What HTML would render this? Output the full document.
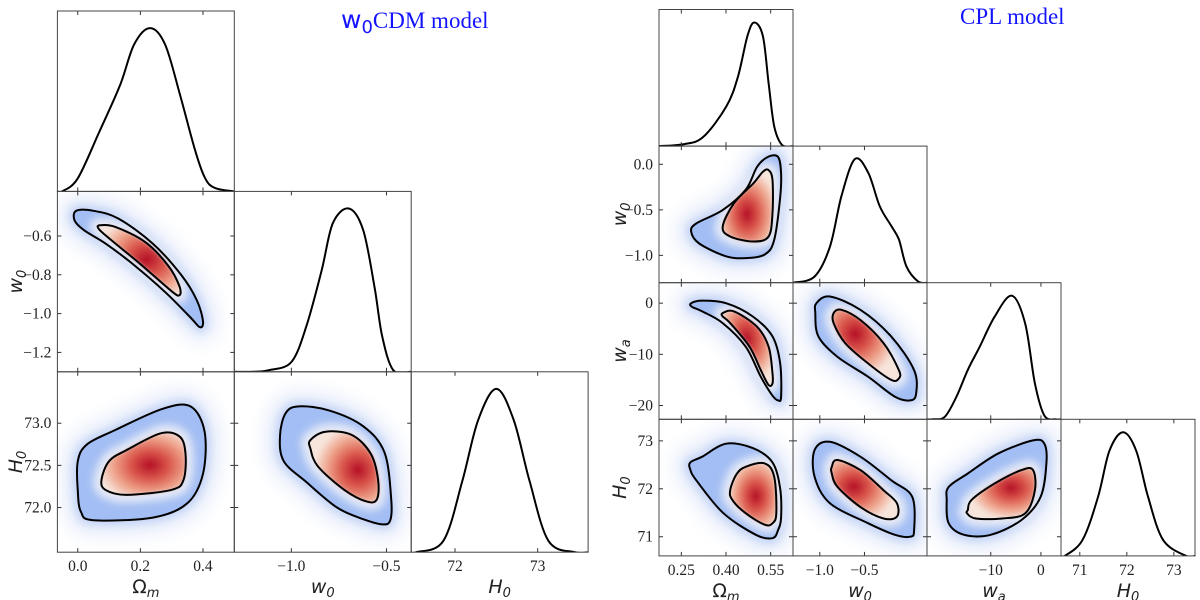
<!DOCTYPE html>
<html><head><meta charset="utf-8"><style>
html,body{margin:0;padding:0;background:#fff;}
svg{display:block;}
text{font-family:"Liberation Serif",serif;fill:#222;}
.tick{font-size:15.5px;}
.lab{font-size:19px;font-style:italic;font-family:"DejaVu Sans",sans-serif;}
.title{font-size:23px;fill:#1414ff;}
</style></head><body>
<svg id="fig" width="1200" height="600" viewBox="0 0 1200 600" xmlns="http://www.w3.org/2000/svg">
<defs>
<filter id="blurBig" x="-50%" y="-50%" width="200%" height="200%"><feGaussianBlur stdDeviation="9"/></filter>
<filter id="blurMid" x="-50%" y="-50%" width="200%" height="200%"><feGaussianBlur stdDeviation="4"/></filter>
<filter id="blurSm" x="-50%" y="-50%" width="200%" height="200%"><feGaussianBlur stdDeviation="1.5"/></filter>
</defs>
<text class="title" x="341" y="28"><tspan font-family="DejaVu Sans, sans-serif" font-size="25">w</tspan><tspan font-family="DejaVu Sans, sans-serif" font-size="18" dy="5">0</tspan><tspan dy="-5">CDM model</tspan></text>
<text class="title" x="960" y="24">CPL model</text>
</svg>
<script>
// ---------- data: w0CDM (left) ----------
const lOmX=[-0.065,-0.05,0.0,0.07,0.135,0.18,0.231,0.279,0.327,0.375,0.407,0.439,0.5];
const lOmD=[0,0,0.08,0.37,0.65,0.90,1,0.90,0.59,0.25,0.08,0.02,0];
const lW0X=[-1.3,-1.2,-1.119,-1.0,-0.921,-0.841,-0.782,-0.698,-0.623,-0.563,-0.523,-0.464,-0.37];
const lW0D=[0,0,0.01,0.06,0.28,0.62,0.91,1,0.87,0.52,0.22,0.01,0];
const lH0X=[71.47,71.53,71.86,72.09,72.28,72.5,72.71,72.90,73.13,73.45,73.61];
const lH0D=[0,0,0.07,0.44,0.81,1,0.81,0.44,0.07,0,0];
const lOmW0Outer=[[-0.005,-0.47],[0.05,-0.47],[0.13,-0.51],[0.24,-0.64],[0.33,-0.8],[0.38,-0.93],[0.40,-1.04],[0.39,-1.07],[0.36,-1.02],[0.28,-0.89],[0.18,-0.75],[0.09,-0.64],[0.02,-0.57],[-0.01,-0.52]];
const lOmW0Inner=[[0.07,-0.545],[0.12,-0.553],[0.216,-0.632],[0.29,-0.755],[0.325,-0.86],[0.325,-0.905],[0.30,-0.885],[0.2,-0.745],[0.11,-0.625],[0.068,-0.565]];
const lOmW0Peak=[0.22,-0.72];
const lOmH0Outer=[[0.0,72.55],[0.0,72.2],[0.01,71.95],[0.05,71.85],[0.24,71.88],[0.35,72.05],[0.40,72.4],[0.405,72.9],[0.36,73.2],[0.27,73.17],[0.12,72.92],[0.03,72.75]];
const lOmH0Inner=[[0.076,72.33],[0.10,72.55],[0.155,72.68],[0.265,72.88],[0.326,72.84],[0.344,72.64],[0.338,72.33],[0.30,72.21],[0.155,72.15],[0.088,72.21]];
const lOmH0Peak=[0.23,72.5];
const lW0H0Outer=[[-1.06,72.85],[-1.03,73.12],[-0.96,73.2],[-0.80,73.15],[-0.62,72.96],[-0.51,72.65],[-0.475,72.1],[-0.48,71.85],[-0.52,71.8],[-0.62,71.86],[-0.76,72.0],[-0.92,72.3],[-1.04,72.55]];
const lW0H0Inner=[[-0.90,72.8],[-0.82,72.9],[-0.682,72.86],[-0.583,72.64],[-0.544,72.33],[-0.55,72.1],[-0.603,72.07],[-0.722,72.21],[-0.861,72.49],[-0.90,72.7]];
const lW0H0Peak=[-0.65,72.45];
// ---------- data: CPL (right) ----------
const rOmX=[0.175,0.26,0.324,0.401,0.44,0.472,0.495,0.524,0.543,0.562,0.588,0.625];
const rOmD=[0,0.016,0.075,0.32,0.56,0.89,1,0.89,0.51,0.16,0.01,0];
const rW0X=[-1.3,-1.294,-1.058,-0.887,-0.758,-0.608,-0.458,-0.33,-0.201,-0.115,-0.03,0.10,0.2];
const rW0D=[0,0,0.05,0.29,0.70,1,0.89,0.62,0.46,0.35,0.13,0.01,0];
const rWaX=[-22.7,-21.44,-19.15,-16.86,-14.57,-12.28,-9.23,-5.78,-3.11,-1.2,0.7,2.99,4];
const rWaD=[0,0,0.02,0.18,0.40,0.58,0.83,1,0.77,0.29,0.03,0,0];
const rH0X=[70.6,70.68,71.06,71.39,71.63,71.92,72.2,72.45,72.77,73.26,73.45];
const rH0D=[0,0,0.13,0.48,0.85,1,0.85,0.48,0.13,0,0];
const rOmW0Outer=[[0.54,0.08],[0.575,0.08],[0.585,-0.1],[0.582,-0.36],[0.562,-0.83],[0.53,-0.99],[0.466,-1.03],[0.40,-1.01],[0.31,-0.87],[0.283,-0.74],[0.30,-0.65],[0.39,-0.50],[0.466,-0.28],[0.504,-0.03]];
const rOmW0Inner=[[0.543,-0.063],[0.556,-0.172],[0.556,-0.537],[0.543,-0.793],[0.492,-0.848],[0.414,-0.793],[0.389,-0.684],[0.427,-0.427],[0.492,-0.208],[0.524,-0.081]];
const rOmW0Peak=[0.47,-0.55];
const rOmWaOuter=[[0.283,0.0],[0.32,0.5],[0.40,0.0],[0.49,-2.6],[0.556,-6.5],[0.582,-11.8],[0.585,-18.3],[0.575,-19],[0.555,-18],[0.517,-14.4],[0.466,-8.5],[0.389,-3.9],[0.32,-1.6],[0.285,-0.7]];
const rOmWaInner=[[0.389,-1.95],[0.427,-1.6],[0.504,-4.6],[0.543,-8.5],[0.556,-13.7],[0.556,-15.7],[0.543,-16.0],[0.517,-13.1],[0.479,-8.5],[0.414,-3.9],[0.389,-2.6]];
const rOmWaPeak=[0.47,-7];
const rOmH0Outer=[[0.28,72.55],[0.32,72.67],[0.40,72.94],[0.49,72.85],[0.556,72.55],[0.582,72.0],[0.585,71.4],[0.575,71.14],[0.556,70.97],[0.50,71.04],[0.39,71.5],[0.30,72.18],[0.28,72.4]];
const rOmH0Inner=[[0.414,71.97],[0.435,72.3],[0.466,72.46],[0.53,72.53],[0.562,72.25],[0.569,71.49],[0.556,71.28],[0.53,71.25],[0.466,71.49],[0.421,71.77]];
const rOmH0Peak=[0.50,71.85];
const rW0WaOuter=[[-1.037,0.01],[-0.887,1.3],[-0.545,-1.3],[-0.201,-6.5],[0.056,-13.1],[0.078,-17.7],[0.013,-19.0],[-0.158,-18.3],[-0.458,-14.4],[-0.802,-10.5],[-1.016,-6.5],[-1.05,-1.95]];
const rW0WaInner=[[-0.845,-1.95],[-0.758,-1.3],[-0.545,-3.3],[-0.287,-7.8],[-0.115,-13.1],[-0.115,-14.7],[-0.201,-15.0],[-0.458,-11.8],[-0.716,-7.8],[-0.845,-3.9]];
const rW0WaPeak=[-0.6,-6];
const rW0H0Outer=[[-1.058,72.81],[-0.887,72.98],[-0.545,72.67],[-0.201,72.18],[0.035,71.83],[0.056,71.14],[0.013,71.0],[-0.158,71.04],[-0.458,71.28],[-0.887,71.7],[-1.058,72.25]];
const rW0H0Inner=[[-0.866,72.46],[-0.802,72.6],[-0.545,72.39],[-0.287,71.97],[-0.137,71.7],[-0.137,71.42],[-0.287,71.38],[-0.545,71.62],[-0.802,72.04],[-0.866,72.32]];
const rW0H0Peak=[-0.62,72.05];
const rWaH0Outer=[[-18.77,71.77],[-18.38,72.04],[-14.57,72.32],[-8.45,72.74],[-1.57,73.01],[0.7,72.94],[1.1,72.53],[-0.06,71.83],[-3.87,71.35],[-10.0,71.04],[-15.3,71.04],[-18.38,71.28]];
const rWaH0Inner=[[-14.57,71.56],[-13.8,71.77],[-9.23,72.11],[-3.87,72.39],[-1.57,72.39],[-1.2,71.97],[-3.11,71.49],[-7.7,71.38],[-13.0,71.38],[-14.75,71.49]];
const rWaH0Peak=[-6,72.0];
// ticks
const lOmTicks=[0.0,0.2,0.4], lOmTickLabels=["0.0","0.2","0.4"];
const lW0XTicks=[-1.0,-0.5], lW0XTickLabels=["\u22121.0","\u22120.5"];
const lW0YTicks=[-0.6,-0.8,-1.0,-1.2], lW0YTickLabels=["\u22120.6","\u22120.8","\u22121.0","\u22121.2"];
const lH0XTicks=[72,73], lH0XTickLabels=["72","73"];
const lH0YTicks=[73.0,72.5,72.0], lH0YTickLabels=["73.0","72.5","72.0"];
const rOmTicks=[0.25,0.40,0.55], rOmTickLabels=["0.25","0.40","0.55"];
const rW0XTicks=[-1.0,-0.5], rW0XTickLabels=["\u22121.0","\u22120.5"];
const rW0YTicks=[0.0,-0.5,-1.0], rW0YTickLabels=["0.0","\u22120.5","\u22121.0"];
const rWaXTicks=[-10,0], rWaXTickLabels=["\u221210","0"];
const rWaYTicks=[0,-10,-20], rWaYTickLabels=["0","\u221210","\u221220"];
const rH0XTicks=[71,72,73], rH0XTickLabels=["71","72","73"];
const rH0YTicks=[73,72,71], rH0YTickLabels=["73","72","71"];

const NS="http://www.w3.org/2000/svg";
const svg=document.getElementById('fig');
function E(tag,attrs,parent){const e=document.createElementNS(NS,tag);for(const k in attrs)e.setAttribute(k,attrs[k]);(parent||svg).appendChild(e);return e;}
function closedPath(pts){const n=pts.length;let d=`M${pts[0][0].toFixed(1)},${pts[0][1].toFixed(1)}`;
 for(let i=0;i<n;i++){const p0=pts[(i-1+n)%n],p1=pts[i],p2=pts[(i+1)%n],p3=pts[(i+2)%n];
  d+=`C${(p1[0]+(p2[0]-p0[0])/6).toFixed(1)},${(p1[1]+(p2[1]-p0[1])/6).toFixed(1)} ${(p2[0]-(p3[0]-p1[0])/6).toFixed(1)},${(p2[1]-(p3[1]-p1[1])/6).toFixed(1)} ${p2[0].toFixed(1)},${p2[1].toFixed(1)}`;}
 return d+'Z';}
function openPath(pts){const n=pts.length;let d=`M${pts[0][0].toFixed(1)},${pts[0][1].toFixed(1)}`;
 for(let i=0;i<n-1;i++){const p0=pts[Math.max(i-1,0)],p1=pts[i],p2=pts[i+1],p3=pts[Math.min(i+2,n-1)];
  d+=`C${(p1[0]+(p2[0]-p0[0])/6).toFixed(1)},${(p1[1]+(p2[1]-p0[1])/6).toFixed(1)} ${(p2[0]-(p3[0]-p1[0])/6).toFixed(1)},${(p2[1]-(p3[1]-p1[1])/6).toFixed(1)} ${p2[0].toFixed(1)},${p2[1].toFixed(1)}`;}
 return d;}
let uid=0;

function buildCorner(cfg){
 const n=cfg.vars.length;
 const cw=cfg.w, rh=cfg.h;
 const px=(j,v)=>{const r=cfg.vars[j].range;return cfg.x0+j*cw+(v-r[0])/(r[1]-r[0])*cw;};
 const py=(i,v)=>{const r=cfg.vars[i].range;return cfg.y0+(i+1)*rh-(v-r[0])/(r[1]-r[0])*rh;};
 for(let i=0;i<n;i++){for(let j=0;j<=i;j++){
  const X=cfg.x0+j*cw, Y=cfg.y0+i*rh;
  const g=E('g',{});
  
  
  const cid='clip'+(uid++);
  const cp=E('clipPath',{id:cid},g);E('rect',{x:X,y:Y,width:cw,height:rh},cp);
  const inner=E('g',{'clip-path':`url(#${cid})`},g);
  if(i===j){
   const v=cfg.vars[i];
   const pts=v.xs.map((x,k)=>[px(j,x),Y+rh-v.ds[k]*rh*0.905]);
   const line=E('path',{d:openPath(pts),fill:'none',stroke:'#000','stroke-width':2},inner);
   
   
  } else {
   const c=cfg.pairs[cfg.vars[i].key+'|'+cfg.vars[j].key];
   const op=c.outer.map(p=>[px(j,p[0]),py(i,p[1])]);
   const ip=c.inner.map(p=>[px(j,p[0]),py(i,p[1])]);
   const od=closedPath(op), id=closedPath(ip);
   E('path',{d:od,fill:'#e6ecfa',stroke:'#e6ecfa','stroke-width':30,filter:'url(#blurBig)'},inner);
   E('path',{d:od,fill:'#c6d6f7',stroke:'#c6d6f7','stroke-width':10,filter:'url(#blurMid)'},inner);
   E('path',{d:od,fill:'#a3bef4'},inner);
   E('path',{d:id,fill:'#eef0f5',stroke:'#e4e9f6','stroke-width':16,filter:'url(#blurMid)'},inner);
   let mnx=1e9,mxx=-1e9,mny=1e9,mxy=-1e9;ip.forEach(p=>{mnx=Math.min(mnx,p[0]);mxx=Math.max(mxx,p[0]);mny=Math.min(mny,p[1]);mxy=Math.max(mxy,p[1]);});
   const pk=[px(j,c.peak[0]),py(i,c.peak[1])];
   const gid='grad'+(uid++);
   const rg=E('radialGradient',{id:gid,gradientUnits:'objectBoundingBox',cx:((pk[0]-mnx)/(mxx-mnx)).toFixed(3),cy:((pk[1]-mny)/(mxy-mny)).toFixed(3),r:0.62},inner);
   E('stop',{offset:'0','stop-color':'#b40f26'},rg);
   E('stop',{offset:'0.35','stop-color':'#d9544a'},rg);
   E('stop',{offset:'0.7','stop-color':'#eea48c'},rg);
   E('stop',{offset:'1','stop-color':'#f7e4da'},rg);
   E('path',{d:id,fill:`url(#${gid})`,filter:'url(#blurSm)'},inner);
   const o=E('path',{d:od,fill:'none',stroke:'#000','stroke-width':2},inner);
   
   
   const ic=E('path',{d:id,fill:'none',stroke:'#000','stroke-width':2},inner);
   
   
   const yv=cfg.vars[i];
   yv.yt.forEach((t,k)=>{const yy=py(i,t);E('line',{x1:X,x2:X+4,y1:yy,y2:yy,stroke:'#333','stroke-width':1},g);E('line',{x1:X+cw-4,x2:X+cw,y1:yy,y2:yy,stroke:'#333','stroke-width':1},g);
    if(j===0){const tl=E('text',{x:X-6,y:yy+5,'text-anchor':'end',class:'tick'},g);tl.textContent=yv.ytl[k];
     
     }});
  }
  const xv=cfg.vars[j];
  xv.xt.forEach((t,k)=>{const xx=px(j,t);E('line',{x1:xx,x2:xx,y1:Y+rh-4,y2:Y+rh,stroke:'#333','stroke-width':1},g);E('line',{x1:xx,x2:xx,y1:Y,y2:Y+4,stroke:'#333','stroke-width':1},g);
   if(i===n-1){const tl=E('text',{x:xx,y:Y+rh+19,'text-anchor':'middle',class:'tick'},g);tl.textContent=xv.xtl[k];
    
    }});
  E('rect',{x:X,y:Y,width:cw,height:rh,fill:'none',stroke:'#444','stroke-width':1},g);
 }}
 cfg.vars.forEach((v,k)=>{
  const t=E('text',{x:cfg.x0+k*cw+cw/2,y:cfg.y0+n*rh+41,'text-anchor':'middle',class:'lab'});
  
  
  t.innerHTML=v.label;
  if(k>0){const cy=cfg.y0+k*rh+rh/2;
   const yl=E('text',{x:0,y:0,'text-anchor':'middle',class:'lab',transform:`translate(${cfg.ylx},${cy}) rotate(-90)`});
   
   
   yl.innerHTML=v.label;}
 });
}
const sub=(a,b)=>`<tspan>${a}</tspan><tspan font-size="13" dy="4">${b}</tspan>`;
const omLab='<tspan font-style="normal">\u03A9</tspan><tspan font-size="13" dy="4">m</tspan>';
buildCorner({prefix:'w0cdm',x0:57.4,y0:11,w:176.9,h:180.4,ylx:22,
 vars:[
  {key:'omega-m',label:omLab,range:[-0.065,0.5],xs:lOmX,ds:lOmD,xt:lOmTicks,xtl:lOmTickLabels},
  {key:'w0',label:sub('w','0'),range:[-1.30,-0.37],xs:lW0X,ds:lW0D,xt:lW0XTicks,xtl:lW0XTickLabels,yt:lW0YTicks,ytl:lW0YTickLabels},
  {key:'h0',label:sub('H','0'),range:[71.47,73.61],xs:lH0X,ds:lH0D,xt:lH0XTicks,xtl:lH0XTickLabels,yt:lH0YTicks,ytl:lH0YTickLabels}],
 pairs:{'w0|omega-m':{outer:lOmW0Outer,inner:lOmW0Inner,peak:lOmW0Peak},
  'h0|omega-m':{outer:lOmH0Outer,inner:lOmH0Inner,peak:lOmH0Peak},
  'h0|w0':{outer:lW0H0Outer,inner:lW0H0Inner,peak:lW0H0Peak}}});
buildCorner({prefix:'cpl',x0:659,y0:9.5,w:134,h:136.6,ylx:626,
 vars:[
  {key:'omega-m',label:omLab,range:[0.175,0.625],xs:rOmX,ds:rOmD,xt:rOmTicks,xtl:rOmTickLabels},
  {key:'w0',label:sub('w','0'),range:[-1.30,0.20],xs:rW0X,ds:rW0D,xt:rW0XTicks,xtl:rW0XTickLabels,yt:rW0YTicks,ytl:rW0YTickLabels},
  {key:'wa',label:sub('w','a'),range:[-22.7,4.0],xs:rWaX,ds:rWaD,xt:rWaXTicks,xtl:rWaXTickLabels,yt:rWaYTicks,ytl:rWaYTickLabels},
  {key:'h0',label:sub('H','0'),range:[70.6,73.45],xs:rH0X,ds:rH0D,xt:rH0XTicks,xtl:rH0XTickLabels,yt:rH0YTicks,ytl:rH0YTickLabels}],
 pairs:{'w0|omega-m':{outer:rOmW0Outer,inner:rOmW0Inner,peak:rOmW0Peak},
  'wa|omega-m':{outer:rOmWaOuter,inner:rOmWaInner,peak:rOmWaPeak},
  'h0|omega-m':{outer:rOmH0Outer,inner:rOmH0Inner,peak:rOmH0Peak},
  'wa|w0':{outer:rW0WaOuter,inner:rW0WaInner,peak:rW0WaPeak},
  'h0|w0':{outer:rW0H0Outer,inner:rW0H0Inner,peak:rW0H0Peak},
  'h0|wa':{outer:rWaH0Outer,inner:rWaH0Inner,peak:rWaH0Peak}}});
</script>
</body></html>
